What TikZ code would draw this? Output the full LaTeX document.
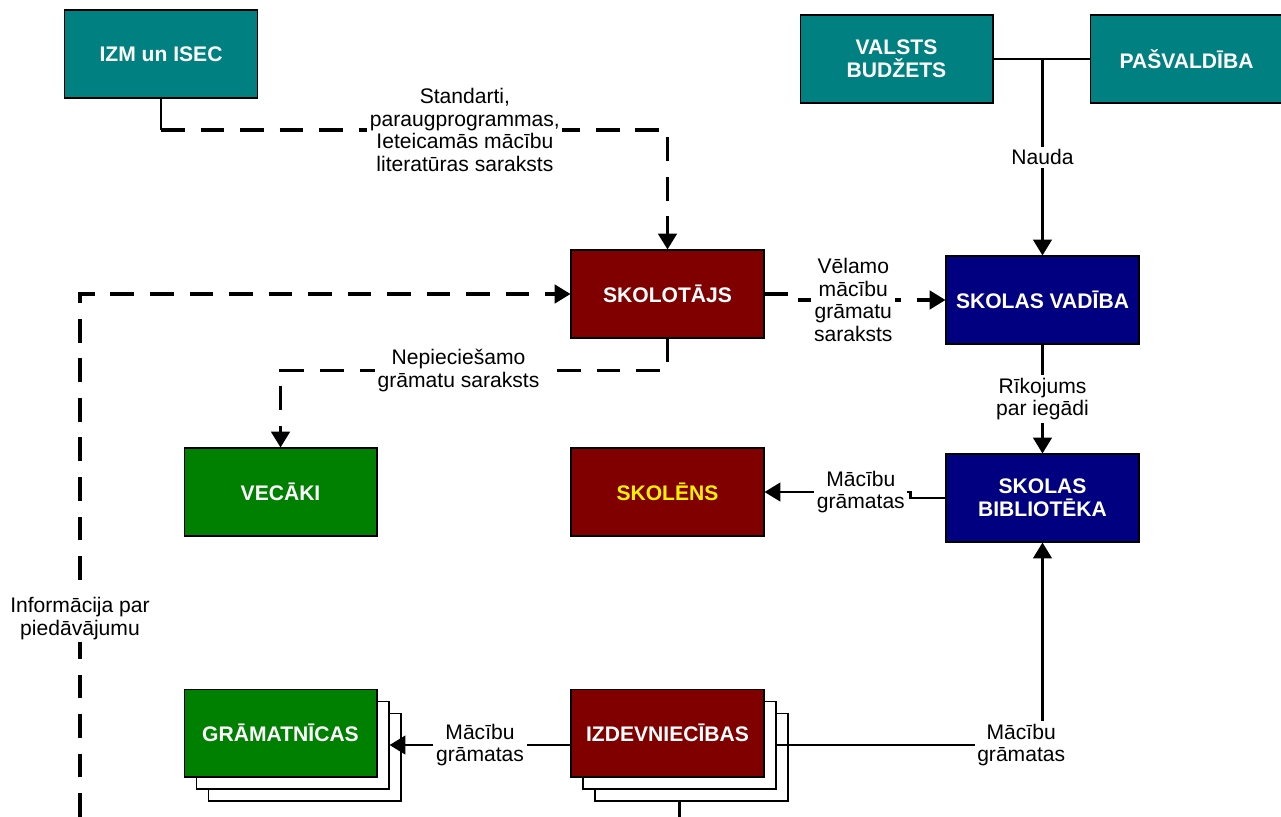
\documentclass[tikz,border=0pt]{standalone}
\usepackage{fontspec}
\setmainfont{Liberation Sans}
\usepackage{xcolor}
\usetikzlibrary{positioning,arrows.meta}

\definecolor{tealbox}{HTML}{008080}
\definecolor{redbox}{HTML}{800000}
\definecolor{bluebox}{HTML}{000080}
\definecolor{greenbox}{HTML}{008000}

\begin{document}
\begin{tikzpicture}[
		x=0.02cm, y=-0.02cm,
		box/.style={draw=black, line width=0.6pt, minimum width=3.86cm, minimum height=1.76cm,
			inner sep=0pt, align=center, text=white, font=\bfseries\fontsize{12}{13}\selectfont},
		back/.style={draw=black, line width=0.6pt, fill=white, minimum width=3.86cm, minimum height=1.76cm},
		edge/.style={line width=1.6pt},
		arrow/.style={edge, -{Triangle[length=9pt,width=10.5pt]}},
		dashedge/.style={arrow, line width=1.8pt, dash pattern=on 13.5pt off 9pt},
		lbl/.style={fill=white, align=center, inner sep=1.5pt, font=\fontsize{12}{13}\selectfont}
		]
		\useasboundingbox (0,0) rectangle (1281,817);
		
		\node[box, fill=tealbox] (izm) at (161,54) {IZM un ISEC};
		\node[box, fill=tealbox] (budzets) at (896.5,59) {VALSTS\\BUDŽETS};
		\node[box, fill=tealbox] (pasvaldiba) at (1186.5,59) {PAŠVALDĪBA};
		
		\node[box, fill=redbox] (skolotajs) at (667.5,294) {SKOLOTĀJS};
		\node[box, fill=bluebox, right=3.62cm of skolotajs, yshift=-0.12cm] (vadiba) {SKOLAS VADĪBA};
		\node[box, fill=redbox, text=yellow, below=2.18cm of skolotajs] (skolens) {SKOLĒNS};
		\node[box, fill=greenbox, left=3.86cm of skolens] (vecaki) {VECĀKI};
		\node[box, fill=bluebox, below=2.18cm of vadiba] (biblioteka) {SKOLAS\\BIBLIOTĒKA};
		
		% stacked boxes
		\node[back, below=3.04cm of vecaki, xshift=0.48cm, yshift=-0.48cm] (gramatnB) {};
		\node[back, below=3.04cm of vecaki, xshift=0.24cm, yshift=-0.24cm] (gramatnA) {};
		\node[box, fill=greenbox, below=3.04cm of vecaki] (gramatn) {GRĀMATNĪCAS};
		\node[back, below=3.04cm of skolens, xshift=0.48cm, yshift=-0.48cm] (izdevnB) {};
		\node[back, below=3.04cm of skolens, xshift=0.24cm, yshift=-0.24cm] (izdevnA) {};
		\node[box, fill=redbox, below=3.04cm of skolens] (izdevn) {IZDEVNIECĪBAS};
		
		\coordinate (izmk) at (161,130);
		\coordinate (infoend) at (80,817);
		
		\draw[edge] (izm.south) -- (izmk);
		\draw[dashedge] (izmk) -| node[lbl, pos=0.3] {Standarti,\\paraugprogrammas,\\Ieteicamās mācību\\literatūras saraksts} (skolotajs.north);
		
		\draw[edge] (budzets.east) -- (pasvaldiba.west);
		\draw[arrow] (budzets.east -| vadiba.north) -- node[lbl] {Nauda} (vadiba.north);
		
		\draw[dashedge] (skolotajs.east) -- ++(22,0) |- node[lbl, pos=0.71] {Vēlamo\\mācību\\grāmatu\\saraksts} (vadiba.west);
		\draw[dashedge] (skolotajs.south) -- ++(0,32) -| node[lbl, pos=0.27] {Nepieciešamo\\grāmatu saraksts} (vecaki.north);
		\draw[dashedge] (infoend) |- node[lbl, pos=0.19] {Informācija par\\piedāvājumu} (skolotajs.west);
		
		\draw[arrow] (vadiba.south) -- node[lbl] {Rīkojums\\par iegādi} (biblioteka.north);
		\draw[arrow] (biblioteka.west) -- ++(-35,0) |- node[lbl, pos=0.67] {Mācību\\grāmatas} (skolens.east);
		
		\draw[arrow] (gramatnA.east -| izdevn.west) -- node[lbl] {Mācību\\grāmatas} (gramatnA.east);
		\draw[arrow] (izdevnA.east) -| node[lbl, pos=0.46] {Mācību\\grāmatas} (biblioteka.south);
		\draw[edge] (izdevnB.south -| izdevnA.south) -- ++(0,20);
	\end{tikzpicture}
\end{document}
